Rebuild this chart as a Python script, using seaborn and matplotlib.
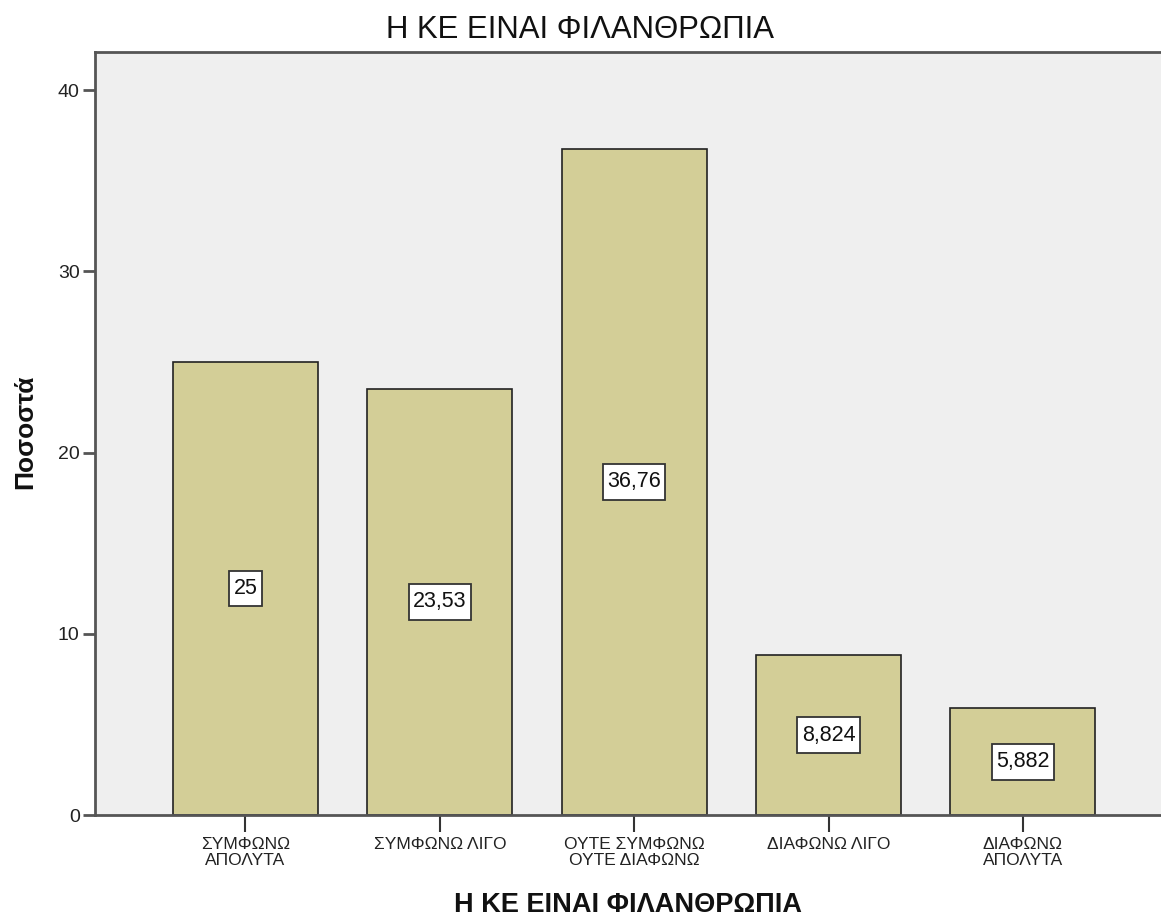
import matplotlib
matplotlib.use('Agg')
import matplotlib.pyplot as plt
import seaborn as sns
import pandas as pd

# Categories and percentages
categories = ['ΣΥΜΦΩΝΩ\nΑΠΟΛΥΤΑ', 'ΣΥΜΦΩΝΩ ΛΙΓΟ', 'ΟΥΤΕ ΣΥΜΦΩΝΩ\nΟΥΤΕ ΔΙΑΦΩΝΩ',
              'ΔΙΑΦΩΝΩ ΛΙΓΟ', 'ΔΙΑΦΩΝΩ\nΑΠΟΛΥΤΑ']
percentages = [25.0, 23.53, 36.76, 8.824, 5.882]
y_ticks = [0, 10, 20, 30, 40]
title = 'Η ΚΕ ΕΙΝΑΙ ΦΙΛΑΝΘΡΩΠΙΑ'

df = pd.DataFrame({'category': categories, 'pct': percentages})

sns.set_style('white')
plt.rcParams['font.family'] = ['Liberation Sans', 'DejaVu Sans']

fig = plt.figure(figsize=(11.61, 9.17), dpi=100)
ax = fig.add_axes([0.0818, 0.1112, 0.9182, 0.8321])
ax.set_facecolor('#efefef')

sns.barplot(data=df, x='category', y='pct', color='#d3ce97', saturation=1,
            edgecolor='#222222', linewidth=1.2, width=0.746, ax=ax)

# value labels in white boxes at half bar height
for i, v in enumerate(percentages):
    txt = f'{v:.4g}'.replace('.', ',')
    ax.text(i, v / 2, txt, ha='center', va='center', fontsize=15.5, color='#111111',
            bbox=dict(boxstyle='square,pad=0.2', mutation_aspect=1.7, facecolor='white',
                      edgecolor='#333333', linewidth=1.3))

ax.set_xlim(-0.774, 4.71)
ax.set_ylim(0, 42.1)
ax.set_yticks(y_ticks)
ax.set_yticklabels([str(t) for t in y_ticks])

for side in ['left', 'top', 'bottom']:
    ax.spines[side].set_color('#555555')
    ax.spines[side].set_linewidth(2)
ax.spines['right'].set_visible(False)

ax.tick_params(axis='y', which='major', left=True, length=9, width=2, color='#555555',
               labelsize=14, pad=2, labelcolor='#222222')
ax.tick_params(axis='x', which='major', bottom=True, length=12, width=1.5, color='#333333',
               labelsize=12.5, pad=4, labelcolor='#222222')
for lbl in ax.get_xticklabels():
    lbl.set_linespacing(1.1)

fig.text(0.5, 1 - 30 / 917, title, ha='center', va='center', fontsize=22.4, color='#111111')

ax.set_xlabel(title, fontsize=19.5, fontweight='bold', color='#111111')
ax.xaxis.set_label_coords(0.5, -0.118)
ax.xaxis.label.set_va('center')
ax.set_ylabel('Ποσοστά', fontsize=19, fontweight='bold', color='#111111')
ax.yaxis.set_label_coords(-0.0657, 0.502)
ax.yaxis.label.set_va('center')

fig.savefig('out.png', dpi=100)
